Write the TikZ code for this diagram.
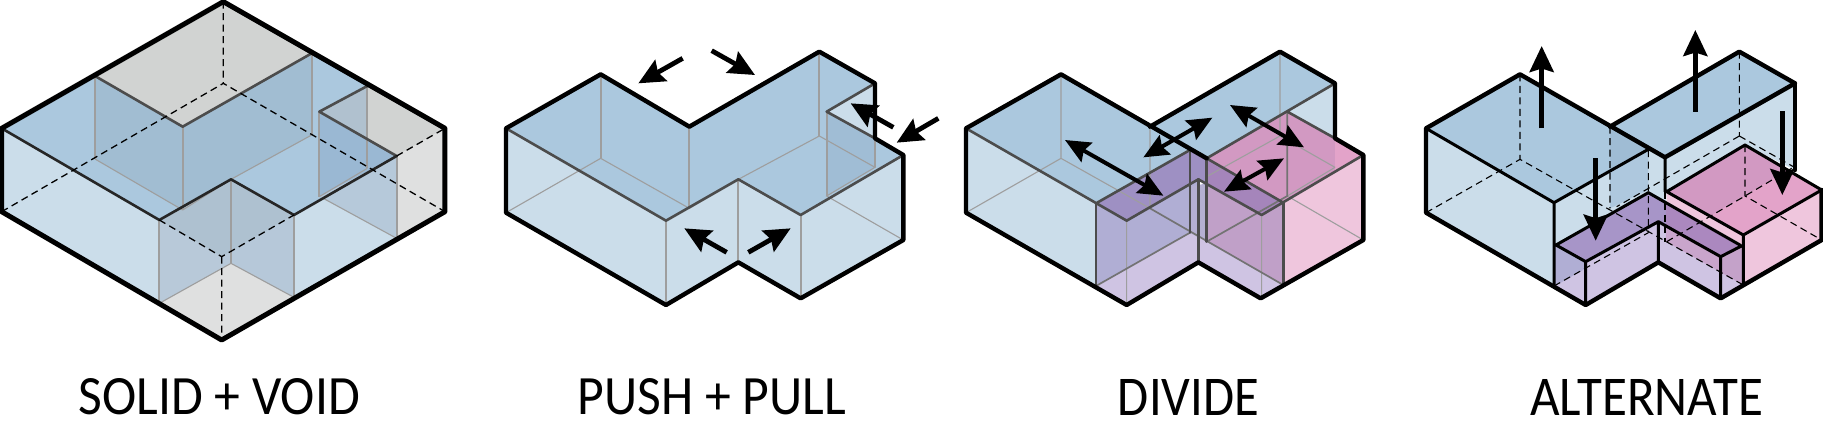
\documentclass[tikz,border=0pt]{standalone}
\usepackage{fontspec}
\usepackage{graphicx}
\setmainfont{Carlito}
\usetikzlibrary{arrows.meta}
\definecolor{topblue}{HTML}{ABC8DE}
\definecolor{frontblue}{HTML}{CBDDEA}
\definecolor{backblue}{HTML}{A1BDD2}
\definecolor{graytop}{HTML}{D1D3D2}
\definecolor{graylow}{HTML}{DFE0E0}
\definecolor{purptop}{HTML}{9E90C3}
\definecolor{purpwall}{HTML}{B0AED4}
\definecolor{purpfloor}{HTML}{CFC4E3}
\definecolor{magwall}{HTML}{C0A0C8}
\definecolor{pinktop}{HTML}{D299C2}
\definecolor{pinklite}{HTML}{E3A3C9}
\definecolor{pinkfront}{HTML}{EFC6DD}
\definecolor{notchA}{HTML}{B8C9D9}
\definecolor{notchB}{HTML}{B6C8D9}
\definecolor{notchC}{HTML}{AEC1D0}
\definecolor{sideA}{HTML}{B0C1CF}
\definecolor{sideB}{HTML}{9AB8D3}
\definecolor{sideC}{HTML}{B6C9DA}
\definecolor{pushwall}{HTML}{A0BDD5}
\definecolor{midpurp}{HTML}{B5B0D2}
\definecolor{purpmag}{HTML}{A585BB}
\definecolor{altdark}{HTML}{9FBCD4}
\definecolor{altmid}{HTML}{AEC8DE}
\definecolor{altmagA}{HTML}{C9A5CC}
\definecolor{altmagB}{HTML}{C4A2C9}
\definecolor{alttopA}{HTML}{A795C8}
\definecolor{alttopB}{HTML}{AB88BF}
\tikzset{
  panel/.style={x=0.33333pt,y=-0.33333pt},
  heavy/.style={draw=black,line width=5pt,line join=round,line cap=round},
  heavyb/.style={draw=black,line width=4.4pt,line join=round,line cap=round},
  blk/.style={draw=black,line width=3pt,line join=round,line cap=round},
  midline/.style={draw=black!70,line width=2.6pt,line join=round,line cap=round},
  midgray/.style={draw=black!38,line width=1.7pt},
  thinline/.style={draw=black!38,line width=1.1pt},
  dashline/.style={draw=black,line width=1.3pt,dash pattern=on 7pt off 4.5pt},
  arrow1/.style={draw=black,line width=4.8pt,-{Stealth[length=26pt,width=24pt,inset=3.5pt]}},
  arrow2/.style={draw=black,line width=4pt,{Stealth[length=25pt,width=22pt,inset=3.5pt]}-{Stealth[length=25pt,width=22pt,inset=3.5pt]}},
  captionnode/.style={inner sep=0pt,outer sep=0pt}
}
\newcommand{\captext}[3]{\resizebox{#1pt}{#2pt}{#3}}
\begin{document}
\begin{tikzpicture}
\useasboundingbox (0pt,0pt) rectangle (1823pt,-440pt);
\fill[white] (0pt,0pt) rectangle (1823pt,-440pt);

% ---------- SOLID + VOID
\begin{scope}[panel]
\fill[graytop] (285,228)--(670,5)--(935,160)--(548,380)--cycle;
\fill[graytop] (958,335)--(1102,258)--(1335,385)--(1190,468)--cycle;
\fill[graylow] (1190,468)--(1335,385)--(1335,635)--(1190,715)--cycle;
\fill[graylow] (478,910)--(693,790)--(882,892)--(665,1020)--cycle;
\fill[frontblue] (5,385)--(478,660)--(478,910)--(5,635)--cycle;
\fill[frontblue] (882,645)--(1190,468)--(1190,715)--(882,892)--cycle;
\fill[topblue] (5,385)--(285,228)--(548,380)--(935,160)--(1102,258)--(958,335)--(1190,468)--(882,645)--(693,538)--(478,660)--cycle;
\fill[backblue] (285,228)--(548,380)--(548,630)--(285,477)--cycle;
\fill[backblue] (548,380)--(935,160)--(935,405)--(693,538)--(548,630)--cycle;
\fill[notchA] (478,660)--(693,538)--(693,790)--(478,910)--cycle;
\fill[notchB] (693,538)--(882,645)--(882,892)--(693,790)--cycle;
\fill[notchC] (478,660)--(693,538)--(882,645)--(665,770)--cycle;
\fill[sideA] (958,335)--(1102,258)--(1102,415)--cycle;
\fill[sideB] (958,335)--(1190,468)--(958,590)--cycle;
\fill[sideC] (958,590)--(1190,468)--(1190,715)--cycle;
\draw[thinline] (285,477)--(548,630) (548,630)--(693,538) (693,538)--(935,405) (478,910)--(693,790)--(882,892) (958,590)--(1102,505) (970,595)--(1190,715);
\draw[midgray] (285,228)--(285,477) (548,380)--(548,630) (935,160)--(935,405) (693,538)--(693,790) (478,660)--(478,910) (882,645)--(882,892) (958,335)--(958,590) (1102,258)--(1102,505) (1190,468)--(1190,715);
\draw[midline] (285,228)--(548,380)--(935,160) (1102,258)--(958,335)--(1190,468);
\draw[midline,draw=black!85] (5,385)--(478,660)--(693,538)--(882,645)--(1190,468);
\draw[dashline] (670,5)--(670,250) (5,635)--(670,250)--(1335,635) (478,660)--(665,770)--(882,645) (665,770)--(665,1020) (1190,468)--(1335,385);
\draw[heavy] (5,385)--(670,5)--(1335,385)--(1335,635)--(665,1020)--(5,635)--cycle;
\end{scope}

% ---------- PUSH + PULL
\begin{scope}[panel,shift={(490pt,-30pt)}]
\fill[frontblue] (48,295)--(528,572)--(528,825)--(48,548)--cycle;
\fill[frontblue] (528,572)--(745,448)--(932,555)--(932,805)--(745,697)--(528,825)--cycle;
\fill[frontblue] (932,555)--(1240,375)--(1240,630)--(932,805)--cycle;
\fill[topblue] (48,295)--(332,133)--(598,290)--(988,65)--(1155,160)--(1010,245)--(1240,375)--(932,555)--(745,448)--(528,572)--cycle;
\fill[pushwall] (1010,245)--(1155,325)--(1155,412)--(1010,498)--cycle;
\fill[frontblue] (1010,245)--(1155,160)--(1155,325)--cycle;
\draw[thinline] (48,548)--(332,385)--(598,535)--(745,448)--(988,318)--(1155,412)--(1010,498)--(1240,630);
\draw[midgray] (332,133)--(332,385) (598,290)--(598,535) (745,448)--(745,697) (988,65)--(988,318) (1155,160)--(1155,412) (1010,245)--(1010,498) (528,572)--(528,825) (932,555)--(932,805);
\draw[midline] (48,295)--(528,572)--(745,448)--(932,555)--(1240,375) (1155,160)--(1010,245)--(1155,325);
\draw[heavyb] (48,295)--(332,133)--(598,290)--(988,65)--(1155,160)--(1155,325)--(1240,375)--(1240,630)--(932,805)--(745,697)--(528,825)--(48,548)--cycle;
\draw[arrow1] (578,85)--(445,160);
\draw[arrow1] (665,62)--(795,135);
\draw[arrow1] (1210,292)--(1082,220);
\draw[arrow1] (1345,265)--(1220,338);
\draw[arrow1] (710,667)--(583,595);
\draw[arrow1] (775,667)--(902,595);
\end{scope}

% ---------- DIVIDE
\begin{scope}[panel,shift={(950pt,-30pt)}]
\fill[frontblue] (48,295)--(438,520)--(438,768)--(48,548)--cycle;
\fill[topblue] (48,295)--(333,133)--(600,290)--(990,65)--(1155,160)--(1012,245)--(770,385)--(720,360)--(438,520)--cycle;
\fill[frontblue] (1012,245)--(1155,160)--(1155,325)--cycle;
\fill[purpfloor] (438,768)--(530,825)--(745,697)--(932,805)--(1000,765)--(770,635)--(720,608)--cycle;
\fill[purpwall] (438,520)--(530,572)--(745,448)--(745,622)--(720,608)--(438,768)--cycle;
\fill[midpurp] (720,470)--(770,460)--(770,635)--(720,608)--cycle;
\fill[magwall] (770,462)--(935,555)--(1000,518)--(1000,765)--(770,635)--cycle;
\fill[pinktop] (770,385)--(1012,245)--(1240,375)--(1000,518)--cycle;
\fill[pinklite] (1155,325)--(1240,375)--(1155,425)--cycle;
\fill[pinkfront] (1000,518)--(1240,375)--(1240,630)--(1000,765)--cycle;
\fill[purptop] (438,520)--(720,360)--(770,388)--(770,462)--(745,448)--(530,572)--cycle;
\fill[purpmag] (770,385)--(1000,518)--(935,555)--(770,462)--cycle;
\draw[thinline] (48,548)--(333,385)--(600,535) (990,65)--(990,318)--(1155,412) (990,318)--(770,440) (600,290)--(600,535) (333,133)--(333,385) (1012,498)--(1240,630) (1012,498)--(1155,412) (530,572)--(530,825) (935,555)--(935,800);
\draw[midgray,draw=black!55] (600,535)--(1000,765) (438,768)--(720,608) (770,635)--(1012,498) (1012,245)--(1012,498);
\draw[midline] (438,520)--(438,768) (720,360)--(720,608) (770,385)--(770,635) (745,448)--(745,697) (1000,518)--(1000,765);
\draw[midline] (48,295)--(530,572)--(745,448)--(935,555)--(1240,375) (438,520)--(720,360) (770,385)--(1155,160) (770,385)--(1000,518) (1012,245)--(1155,325);
\draw[heavyb] (600,290)--(990,65)--(1155,160)--(1155,325)--(1240,375)--(1240,630)--(932,805)--(745,697)--(530,825)--(48,548)--(48,295)--(333,133)--(770,385);
\draw[arrow2] (345,330)--(640,497);
\draw[arrow2] (580,382)--(787,263);
\draw[arrow2] (840,225)--(1062,352);
\draw[arrow2] (822,485)--(1002,385);
\end{scope}

% ---------- ALTERNATE
\begin{scope}[panel,shift={(1410pt,-30pt)}]
\fill[frontblue] (48,295)--(432,518)--(432,768)--(48,548)--cycle;
\fill[frontblue] (432,518)--(715,358)--(765,382)--(1155,160)--(1155,420)--(1005,345)--(770,485)--(765,640)--(715,608)--(432,645)--cycle;
\fill[topblue] (48,295)--(330,133)--(600,290)--(988,65)--(1155,160)--(765,382)--(715,358)--(432,518)--cycle;
\fill[altdark] (600,290)--(715,358)--(600,425)--cycle;
\fill[altmid] (600,425)--(715,360)--(715,480)--(600,535)--cycle;
\fill[purpfloor] (432,645)--(527,695)--(745,575)--(932,680)--(1000,645)--(1000,765)--(932,805)--(745,697)--(527,825)--(432,768)--cycle;
\fill[purpwall] (435,645)--(527,695)--(527,715)--(435,768)--cycle;
\fill[altmagA] (768,590)--(932,680)--(932,727)--(768,635)--cycle;
\fill[altmagB] (932,680)--(1000,645)--(1000,765)--(932,727)--cycle;
\fill[alttopA] (438,645)--(715,488)--(768,515)--(768,588)--(745,575)--(527,695)--cycle;
\fill[alttopB] (768,515)--(990,645)--(932,680)--(768,588)--cycle;
\fill[pinkfront] (770,485)--(1000,615)--(1000,645)--(770,514)--cycle;
\fill[pinkfront] (1000,615)--(1235,480)--(1235,630)--(1000,765)--cycle;
\fill[pinktop] (770,485)--(1005,345)--(1235,480)--(1000,615)--cycle;
\fill[pinklite] (905,555)--(1005,498)--(1130,420)--(1235,480)--(1000,615)--cycle;
\draw[dashline,line width=1.1pt] (330,133)--(330,388) (48,548)--(330,388)--(1000,765) (600,290)--(600,535) (715,360)--(715,608) (988,65)--(988,318) (988,318)--(620,530) (988,318)--(1150,410) (432,768)--(715,608) (770,635)--(1005,498)--(1150,412) (1005,345)--(1005,498)--(1235,630);
\draw[dashline,line width=2.2pt] (765,485)--(765,635);
\draw[blk] (715,488)--(990,645) (438,645)--(715,488) (438,645)--(527,695)--(745,575)--(932,680)--(1000,645) (527,695)--(527,825) (932,680)--(932,805) (745,575)--(745,697) (1000,615)--(1000,765) (770,485)--(1000,615)--(1235,480) (770,485)--(1005,345)--(1235,480) (765,382)--(765,485) (432,518)--(432,768) (48,295)--(432,518)--(715,358);
\draw[heavyb] (600,290)--(988,65)--(1155,160)--(765,382)--(330,133)--(48,295)--(48,548)--(527,825)--(745,697)--(932,805)--(1235,630)--(1235,480);
\draw[heavyb] (1155,160)--(1155,420);
\draw[arrow1] (395,295)--(395,48);
\draw[arrow1] (856,245)--(856,0);
\draw[arrow1] (1117,243)--(1117,495);
\draw[arrow1] (557,385)--(557,632);
\end{scope}

% ---------- captions
\node[captionnode] (capA) at (219.5pt,-397pt) {\captext{281}{36}{SOLID + VOID}};
\node[captionnode] (capB) at (712pt,-397pt) {\captext{268}{36}{PUSH + PULL}};
\node[captionnode] (capC) at (1188.5pt,-397pt) {\captext{141}{36}{DIVIDE}};
\node[captionnode] (capD) at (1646.5pt,-397pt) {\captext{233}{36}{ALTERNATE}};
\end{tikzpicture}
\end{document}
